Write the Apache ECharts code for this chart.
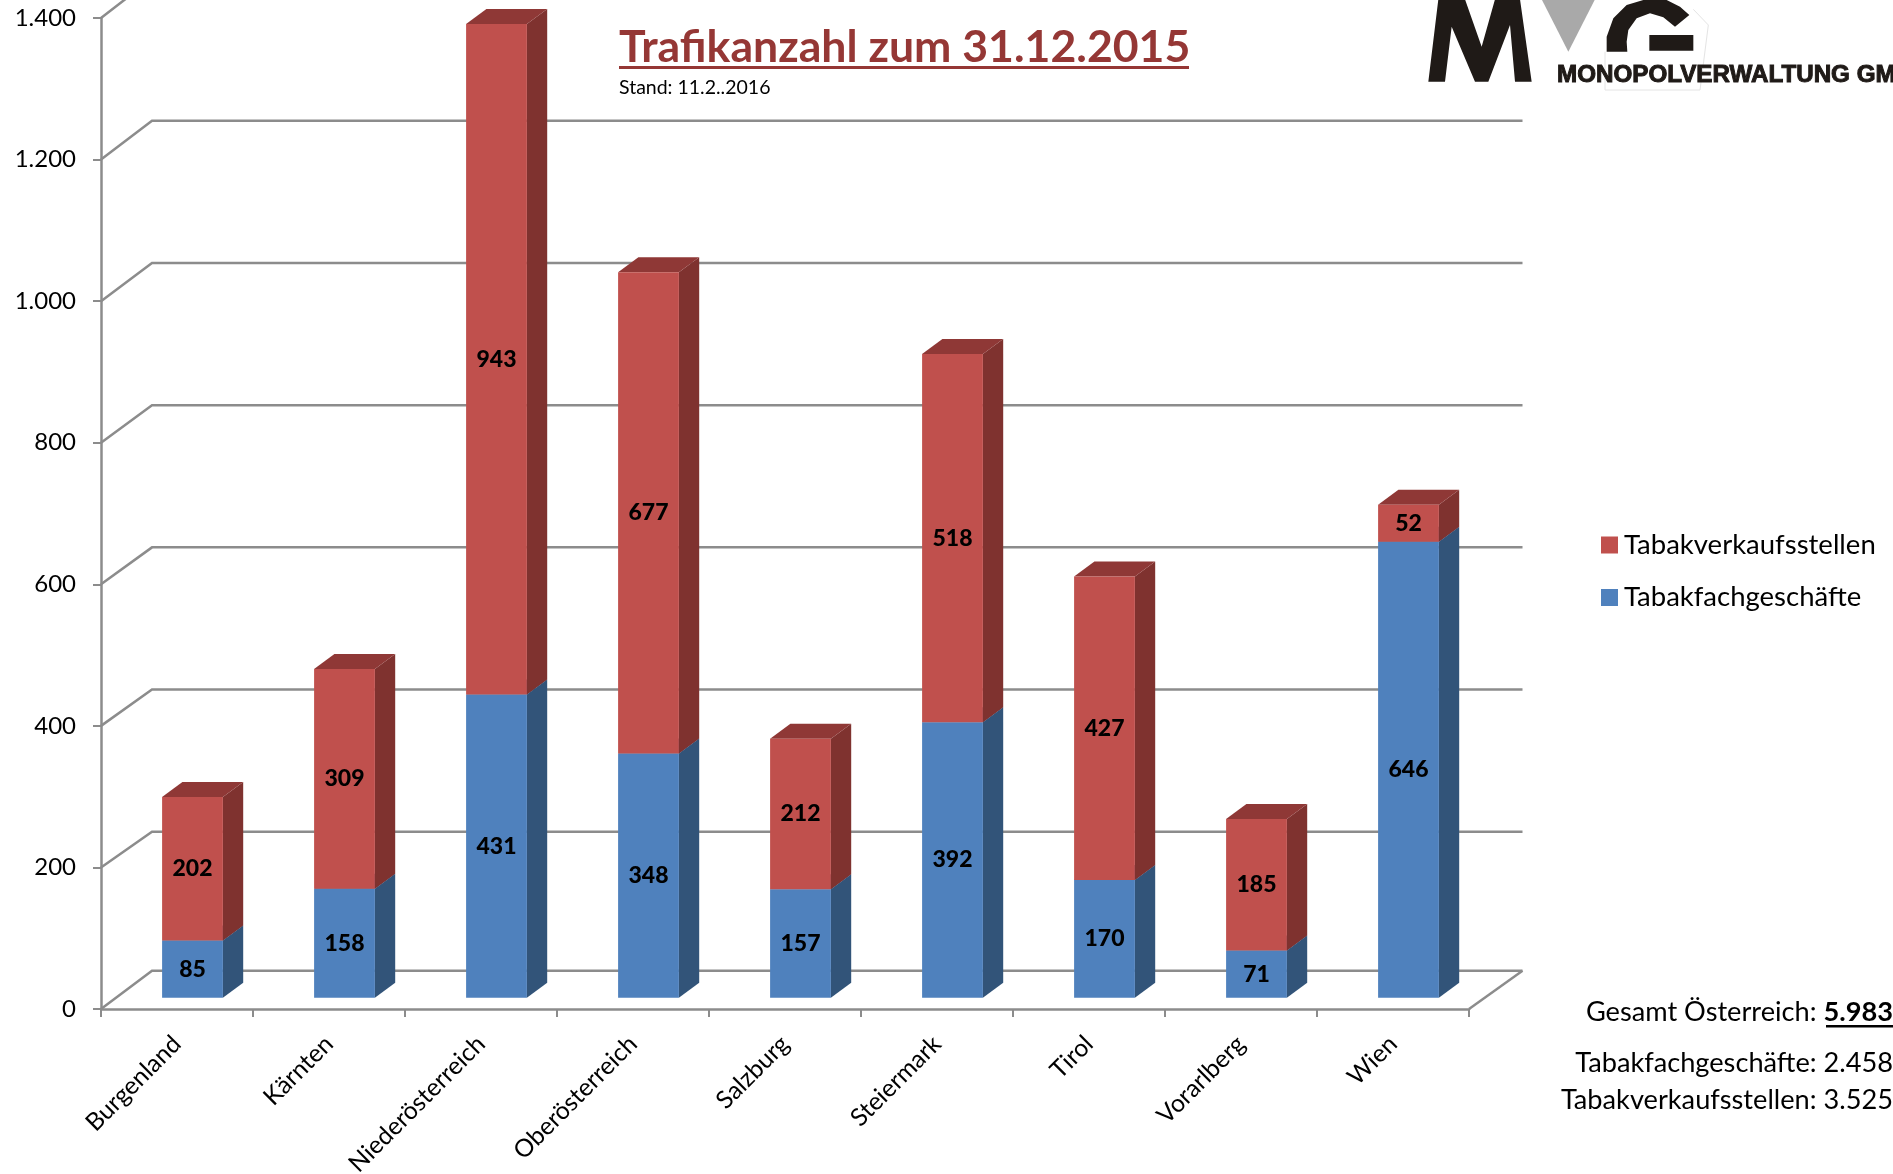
<!DOCTYPE html>
<html><head><meta charset="utf-8">
<style>html,body{margin:0;padding:0;background:#fff;overflow:hidden}#c{width:1893px;height:1174px}</style>
<script src="https://cdn.jsdelivr.net/npm/echarts@6/dist/echarts.min.js"></script>
</head><body><div id="c"></div>
<script>
const categories = ['Burgenland','Kärnten','Niederösterreich','Oberösterreich','Salzburg','Steiermark','Tirol','Vorarlberg','Wien'];
const fachgeschaefte = [85,158,431,348,157,392,170,71,646];
const verkaufsstellen = [202,309,943,677,212,518,427,185,52];
const tickValues = [0,200,400,600,800,1000,1200,1400];
const nameFach = 'Tabakfachgeschäfte';
const nameVerk = 'Tabakverkaufsstellen';

const FONT = 'Lato';
const AXIS = '#8c8c8c';
const WALL = {dx:51, dy:35, extra:2.5};
const BAR = {dx:20.3, dy:15, shiftX:15.5, shiftY:8, baseGap:3.2, stretch:1.0045, ratio:0.40};

function barRenderer(front, side, top) {
  return function (params, api) {
    const i = api.value(0);
    const zeroY = api.coord([i, 0])[1];
    const toY = v => {
      const py = api.coord([i, v])[1];
      return zeroY + (py - zeroY) * BAR.stretch - BAR.shiftY;
    };
    const cx = api.coord([i, 0])[0];
    const w = api.size([1, 0])[0] * BAR.ratio;
    const x = cx - w / 2 + BAR.shiftX;
    const lo = api.value(1);
    const y0 = lo === 0 ? toY(0) - BAR.baseGap : toY(lo);
    const y1 = toY(api.value(2));
    const d = BAR.dx, e = BAR.dy;
    return {type:'group', children:[
      {type:'polygon', shape:{points:[[x+w,y0],[x+w+d,y0-e],[x+w+d,y1-e],[x+w,y1]]}, style:{fill:side}},
      {type:'polygon', shape:{points:[[x,y1],[x+w,y1],[x+w+d,y1-e],[x+d,y1-e]]}, style:{fill:top}},
      {type:'rect', shape:{x:x, y:y1, width:w, height:y0-y1}, style:{fill:front}},
      {type:'text', x:x+w/2, y:(y0+y1)/2, z2:5, style:{text:String(api.value(3)), fill:'#000', font:'900 23px '+FONT, align:'center', verticalAlign:'middle'}}
    ]};
  };
}

const dataFach = fachgeschaefte.map((v,i)=>[i,0,v,v]);
const dataVerk = verkaufsstellen.map((v,i)=>[i,fachgeschaefte[i],fachgeschaefte[i]+v,v]);

const lineStyle = {stroke:AXIS, lineWidth:2.5, fill:null};

const option = {
  animation:false,
  backgroundColor:'#fff',
  textStyle:{fontFamily:FONT},
  title:[
    {text:'Trafikanzahl zum 31.12.2015', left:619, top:25, padding:0, textStyle:{color:'#953735', fontFamily:FONT, fontWeight:'bold', fontSize:44.6}},
    {text:'Stand: 11.2..2016', left:619, top:78, padding:0, textStyle:{color:'#000', fontFamily:FONT, fontWeight:'normal', fontSize:19.5}}
  ],
  legend:{
    orient:'vertical', left:1601, top:531, padding:0, itemWidth:17, itemHeight:17, itemGap:24.5, icon:'rect',
    data:[nameVerk, nameFach],
    textStyle:{fontFamily:FONT, fontSize:27.5, color:'#000', padding:[0,0,0,1]}
  },
  grid:{left:101, top:18, width:1368, height:991, containLabel:false, outerBoundsMode:'none'},
  xAxis:{type:'category', data:categories, boundaryGap:true,
    axisLine:{lineStyle:{color:AXIS,width:2.5}},
    axisTick:{show:true,length:8,alignWithLabel:false,lineStyle:{color:AXIS,width:2}},
    axisLabel:{rotate:45, interval:0, margin:31, fontFamily:FONT, fontSize:24.6, color:'#000'}},
  yAxis:{type:'value', min:0, max:1400, interval:200,
    axisLine:{show:true,lineStyle:{color:AXIS,width:2.5}},
    axisTick:{show:true,length:8,lineStyle:{color:AXIS,width:2}},
    splitLine:{show:false},
    axisLabel:{margin:25, padding:[15,0,0,0], fontFamily:FONT, fontSize:24, color:'#000',
      formatter:v=>String(v).replace(/\B(?=(\d{3})+$)/g,'.')}},
  series:[
    {type:'custom', name:'wall', silent:true, z:1, clip:false,
     data:tickValues.map(v=>[0,v]),
     renderItem(params,api){
       const cs = params.coordSys;
       const v = api.value(1);
       const zeroY = api.coord([0,0])[1];
       const y = api.coord([0,v])[1];
       const by = zeroY + (y - zeroY) * BAR.stretch - WALL.dy - (v === 0 ? BAR.baseGap : 0);
       const rx = cs.x+cs.width+WALL.dx+WALL.extra;
       const children = [{type:'polyline', shape:{points:[[cs.x,y],[cs.x+WALL.dx,by],[rx,by]]}, style:lineStyle}];
       if (v===0) children.push({type:'line', shape:{x1:cs.x+cs.width,y1:y,x2:rx,y2:by}, style:lineStyle});
       return {type:'group', children};
     }},
    {type:'custom', name:nameFach, z:2, clip:false, itemStyle:{color:'#4F81BD'}, data:dataFach,
     renderItem:barRenderer('#4F81BD','#325479','#3A6090')},
    {type:'custom', name:nameVerk, z:3, clip:false, itemStyle:{color:'#C0504D'}, data:dataVerk,
     renderItem:barRenderer('#C0504D','#7F322F','#8F3836')}
  ],
  graphic:[
    {type:'rect', shape:{x:619,y:66,width:570,height:3}, style:{fill:'#953735'}, silent:true},
    {type:'text', x:1893, y:1012, style:{text:'{a|Gesamt Österreich: }{b|5.983}', align:'right', verticalAlign:'middle',
      rich:{a:{font:'27.2px '+FONT, fill:'#000'}, b:{font:'bold 27.2px '+FONT, fill:'#000'}}}},
    {type:'rect', shape:{x:1826,y:1025,width:67,height:2.5}, style:{fill:'#000'}, silent:true},
    {type:'text', x:1893, y:1063, style:{text:'Tabakfachgeschäfte: 2.458', align:'right', verticalAlign:'middle', font:'27.2px '+FONT, fill:'#000'}},
    {type:'text', x:1893, y:1100, style:{text:'Tabakverkaufsstellen: 3.525', align:'right', verticalAlign:'middle', font:'27.2px '+FONT, fill:'#000'}},
    {type:'polyline', silent:true, shape:{points:[[585,155],[585,270],[870,270],[895,75],[850,28]].map(p=>[1410+p[0]/3,p[1]/3])}, style:{stroke:'#e4e4e4',lineWidth:1,fill:null}},
    {type:'polygon', silent:true, shape:{points:[[55,245],[105,245],[125,80],[195,245],[235,245],[300,75],[315,245],[365,245],[330,-2],[255,-2],[215,140],[165,-2],[85,-2]].map(p=>[1410+p[0]/3,p[1]/3])}, style:{fill:'#1f1a17'}},
    {type:'polygon', silent:true, shape:{points:[[395,-2],[555,-2],[475,155]].map(p=>[1410+p[0]/3,p[1]/3])}, style:{fill:'#a9a9a9'}},
    {type:'polygon', silent:true, shape:{points:[[590,155],[590,110],[610,55],[650,15],[710,-3],[770,0],[810,20],[838,45],[795,80],[760,52],[720,40],[680,55],[655,90],[650,125],[652,155]].map(p=>[1410+p[0]/3,p[1]/3])}, style:{fill:'#1f1a17'}},
    {type:'rect', silent:true, shape:{x:1410+718/3,y:105/3,width:132/3,height:47/3}, style:{fill:'#1f1a17'}},
    {type:'text', silent:true, x:1557, y:75, style:{text:'MONOPOLVERWALTUNG GMBH', font:'bold 24.2px "Liberation Sans"', fill:'#1f1a17', stroke:'#1f1a17', lineWidth:1, verticalAlign:'middle', align:'left'}}
  ]
};
echarts.init(document.getElementById('c'),null,{renderer:'canvas'}).setOption(option);
</script></body></html>
